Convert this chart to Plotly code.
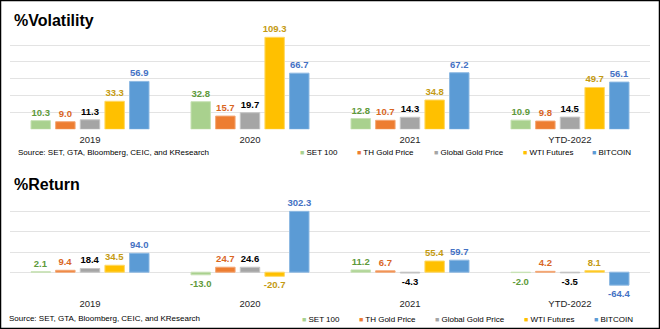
import plotly.graph_objects as go

W, H = 660, 329

categories = ["2019", "2020", "2021", "YTD-2022"]
series_names = ["SET 100", "TH Gold Price", "Global Gold Price", "WTI Futures", "BITCOIN"]

vol_set = [10.3, 32.8, 12.8, 10.9]
vol_thgold = [9.0, 15.7, 10.7, 9.8]
vol_global = [11.3, 19.7, 14.3, 14.5]
vol_wti = [33.3, 109.3, 34.8, 49.7]
vol_btc = [56.9, 66.7, 67.2, 56.1]

ret_set = [2.1, -13.0, 11.2, -2.0]
ret_thgold = [9.4, 24.7, 6.7, 4.2]
ret_global = [18.4, 24.6, -4.3, -3.5]
ret_wti = [34.5, -20.7, 55.4, 8.1]
ret_btc = [94.0, 302.3, 59.7, -64.4]

fill_colors = ["#A9D18E", "#ED7D31", "#A5A5A5", "#FFC000", "#5B9BD5"]
edge_colors = ["#C8E2B6", "#F4A876", "#C6C6C6", "#FFD966", "#8DB9E3"]
label_colors = ["#5E9A3A", "#D9661F", "#000000", "#C49A12", "#4472C4"]

FONT = "Liberation Sans, Arial, sans-serif"


def px_x(x):
    return x / W


def px_y(y):
    return 1 - y / H


fig = go.Figure()

vol_data = [vol_set, vol_thgold, vol_global, vol_wti, vol_btc]
ret_data = [ret_set, ret_thgold, ret_global, ret_wti, ret_btc]

for i, name in enumerate(series_names):
    fig.add_trace(go.Bar(
        x=categories, y=vol_data[i], name=name,
        marker=dict(color=fill_colors[i], line=dict(color=edge_colors[i], width=1)),
        text=[f"{v:.1f}" for v in vol_data[i]], textposition="outside",
        textfont=dict(family=FONT, size=9.5, color=label_colors[i], weight="bold"),
        cliponaxis=False, constraintext="none", showlegend=False,
        xaxis="x", yaxis="y",
    ))
for i, name in enumerate(series_names):
    fig.add_trace(go.Bar(
        x=categories, y=ret_data[i], name=name,
        marker=dict(color=fill_colors[i], line=dict(color=edge_colors[i], width=1)),
        text=[f"{v:.1f}" for v in ret_data[i]], textposition="outside",
        textfont=dict(family=FONT, size=9.5, color=label_colors[i], weight="bold"),
        cliponaxis=False, constraintext="none", showlegend=False,
        xaxis="x2", yaxis="y2",
    ))

xdom = [px_x(10), px_x(650)]
axis_common = dict(showline=False, ticks="", showgrid=False, zeroline=False,
                   tickfont=dict(family=FONT, size=9.5, color="#262626"))
yaxis_common = dict(showticklabels=False, showline=False, ticks="",
                    showgrid=True, gridcolor="#E3E3E3", gridwidth=1, zeroline=False)

fig.update_layout(
    width=W, height=H,
    margin=dict(l=0, r=0, t=0, b=0),
    paper_bgcolor="white", plot_bgcolor="white",
    barmode="group", bargap=0.23, bargroupgap=0.21,
    font=dict(family=FONT),
    xaxis=dict(domain=xdom, anchor="y", ticklabelstandoff=3, **axis_common),
    yaxis=dict(domain=[px_y(129.3), px_y(28.3)], range=[0, 120], dtick=20, **yaxis_common),
    xaxis2=dict(domain=xdom, anchor="y2", ticklabelstandoff=4, **axis_common),
    yaxis2=dict(domain=[px_y(292.3), px_y(191.7)], range=[-100, 400], dtick=100, **yaxis_common),
)

annotations = []
annotations.append(dict(text="<b>%Volatility</b>", x=px_x(12), y=px_y(20), xref="paper", yref="paper",
                        xanchor="left", yanchor="middle", showarrow=False,
                        font=dict(family=FONT, size=16, color="#000")))
annotations.append(dict(text="<b>%Return</b>", x=px_x(12), y=px_y(184), xref="paper", yref="paper",
                        xanchor="left", yanchor="middle", showarrow=False,
                        font=dict(family=FONT, size=16, color="#000")))

source = "Source: SET, GTA, Bloomberg, CEIC, and KResearch"
annotations.append(dict(text=source, x=px_x(16), y=px_y(153), xref="paper", yref="paper",
                        xanchor="left", yanchor="middle", showarrow=False,
                        font=dict(family=FONT, size=8, color="#000")))
annotations.append(dict(text=source, x=px_x(7), y=px_y(318), xref="paper", yref="paper",
                        xanchor="left", yanchor="middle", showarrow=False,
                        font=dict(family=FONT, size=8, color="#000")))

legend_x_top = [298, 355, 432, 521, 590]
legend_x_bot = [300, 357, 433, 522, 592]
for lx, ly in ((legend_x_top, 153), (legend_x_bot, 319)):
    for i, name in enumerate(series_names):
        annotations.append(dict(
            text=f"<span style='color:{fill_colors[i]};font-size:7px'>■</span> {name}",
            x=px_x(lx[i]), y=px_y(ly), xref="paper", yref="paper",
            xanchor="left", yanchor="middle", showarrow=False,
            font=dict(family=FONT, size=8, color="#000")))

fig.update_layout(annotations=annotations)

fig.add_shape(type="rect", xref="paper", yref="paper", x0=0, y0=0, x1=1, y1=1,
              line=dict(color="black", width=2.5), fillcolor="rgba(0,0,0,0)", layer="above")

fig.write_html("out.html")
